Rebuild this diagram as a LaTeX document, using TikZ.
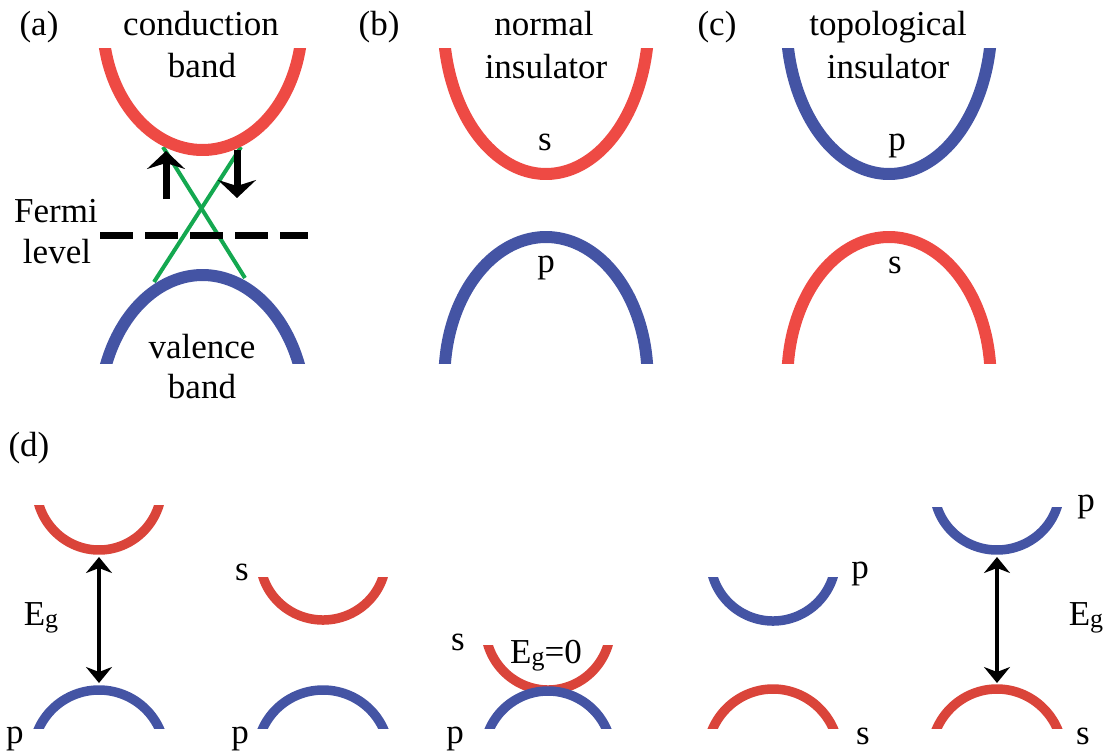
\documentclass[tikz,border=0pt]{standalone}
\usepackage{fontspec}
\setmainfont{Liberation Serif}
\usetikzlibrary{arrows.meta}
\definecolor{bred}{RGB}{238,74,68}
\definecolor{dred}{RGB}{218,68,58}
\definecolor{bblue}{RGB}{68,84,164}
\definecolor{bgreen}{RGB}{20,168,80}

% U-shaped band: style, cx, top(end y), half-width, depth, end angle
\newcommand\bandU[6]{%
  \pgfmathsetmacro\bRx{#4/cos(#6)}%
  \pgfmathsetmacro\bRy{#5/(1-sin(#6))}%
  \pgfmathsetmacro\bCy{#3+#5-\bRy}%
  \pgfmathsetmacro\bA{#6-8}%
  \pgfmathsetmacro\bB{188-#6}%
  \begin{scope}
    \clip ({#2-#4-40},#3) rectangle ({#2+#4+40},{#3+#5+40});
    \draw[#1,domain=\bA:\bB,samples=90,smooth,variable=\t]
      plot ({#2+\bRx*cos(\t)},{\bCy+\bRy*sin(\t)});
  \end{scope}}
% arch-shaped band: style, cx, top, half-width, height, end angle
\newcommand\bandA[6]{%
  \pgfmathsetmacro\bRx{#4/cos(#6)}%
  \pgfmathsetmacro\bRy{#5/(1-sin(#6))}%
  \pgfmathsetmacro\bCy{#3+\bRy}%
  \pgfmathsetmacro\bA{172+#6}%
  \pgfmathsetmacro\bB{368-#6}%
  \begin{scope}
    \clip ({#2-#4-40},{#3-40}) rectangle ({#2+#4+40},{#3+#5});
    \draw[#1,domain=\bA:\bB,samples=90,smooth,variable=\t]
      plot ({#2+\bRx*cos(\t)},{\bCy+\bRy*sin(\t)});
  \end{scope}}
\newcommand\Egap{E\raisebox{-1.2pt}{\fontsize{13}{13}\selectfont g}}

\begin{document}
\begin{tikzpicture}[x=0.5pt,y=-0.5pt,
  lbl/.style={anchor=base,inner sep=0pt,font=\fontsize{17.5}{21}\selectfont},
  bandabc/.style={line width=6pt},
  bandd/.style={line width=4.75pt},
  spinarrow/.style={line width=3.5pt,-{Stealth[length=9pt,width=19pt,inset=3pt]}},
  gaparrow/.style={line width=2pt,{Stealth[length=8pt,width=13pt,inset=2.5pt]}-{Stealth[length=8pt,width=13pt,inset=2.5pt]}},
  fermi/.style={line width=3.5pt,dash pattern=on 16.5pt off 6pt},
  dirac/.style={bgreen,line width=2pt}]
\useasboundingbox (0,0) rectangle (1107,755);

% ---------- (a) ----------
\coordinate (ga1) at (163,147);
\coordinate (ga2) at (245,278);
\coordinate (gb1) at (241,147);
\coordinate (gb2) at (154,282);
\draw[dirac] (ga1) -- (ga2);
\draw[dirac] (gb1) -- (gb2);
\bandU{bred,bandabc}{202.5}{48}{97.5}{102}{12}
\bandA{bblue,bandabc}{202.5}{275}{96}{88}{22}
\coordinate (f1) at (100,235);
\coordinate (f2) at (308,235);
\draw[fermi] (f1) -- (f2);
\coordinate (up1) at (166,199);
\coordinate (up2) at (166,151);
\coordinate (dn1) at (237,150);
\coordinate (dn2) at (237,198);
\draw[spinarrow] (up1) -- (up2);
\draw[spinarrow] (dn1) -- (dn2);
\node[lbl] (la) at (39,35) {(a)};
\node[lbl] (cond) at (201,35) {conduction};
\node[lbl] (cband) at (202,77) {band};
\node[lbl] (fermi) at (56,222) {Fermi};
\node[lbl] (level) at (57,263) {level};
\node[lbl] (val) at (202,358) {valence};
\node[lbl] (vband) at (202,398) {band};

% ---------- (b) ----------
\bandU{bred,bandabc}{546}{48}{101}{126}{10}
\bandA{bblue,bandabc}{546}{237}{101}{126}{6}
\node[lbl] (lb) at (379,35) {(b)};
\node[lbl] (normal) at (544,35) {normal};
\node[lbl] (insb) at (546,78) {insulator};
\node[lbl] (sb) at (545,150) {s};
\node[lbl] (pb) at (546,272) {p};

% ---------- (c) ----------
\bandU{bblue,bandabc}{889}{48}{101}{126}{10}
\bandA{bred,bandabc}{889}{237}{101}{126}{6}
\node[lbl] (lc) at (717,35) {(c)};
\node[lbl] (topo) at (888,35) {topological};
\node[lbl] (insc) at (888,78) {insulator};
\node[lbl] (pc) at (897,150) {p};
\node[lbl] (sc) at (895,273) {s};

% ---------- (d) ----------
\node[lbl] (ld) at (29,456) {(d)};
% group 1
\bandU{dred,bandd}{99}{505}{60}{45}{17.5}
\bandA{bblue,bandd}{99}{690}{60}{38}{25}
\coordinate (g1t) at (99,557);
\coordinate (g1b) at (99,683);
\draw[gaparrow] (g1t) -- (g1b);
\node[lbl] (eg1) at (41,625) {\Egap};
\node[lbl] (p1) at (15,743) {p};
% group 2
\bandU{dred,bandd}{323}{577}{60}{43}{17.5}
\bandA{bblue,bandd}{323}{690}{60}{38}{25}
\node[lbl] (s2) at (242,580) {s};
\node[lbl] (p2) at (240,743) {p};
% group 3
\bandU{dred,bandd}{548}{645}{60}{45}{17.5}
\bandA{bblue,bandd}{548}{691}{58}{37}{25}
\node[lbl] (s3) at (458,650) {s};
\node[lbl] (p3) at (455,743) {p};
\node[lbl] (eg3) at (546,663) {\Egap=0};
% group 4
\bandU{bblue,bandd}{773}{577}{60}{44}{17.5}
\bandA{dred,bandd}{773}{689}{60}{39}{25}
\node[lbl] (p4) at (860,578) {p};
\node[lbl] (s4) at (863,744) {s};
% group 5
\bandU{bblue,bandd}{997}{507}{60}{43}{17.5}
\bandA{dred,bandd}{997}{689}{60}{39}{25}
\coordinate (g5t) at (997,557);
\coordinate (g5b) at (997,683);
\draw[gaparrow] (g5t) -- (g5b);
\node[lbl] (p5) at (1086,511) {p};
\node[lbl] (eg5) at (1086,625) {\Egap};
\node[lbl] (s5) at (1083,744) {s};
\end{tikzpicture}
\end{document}
